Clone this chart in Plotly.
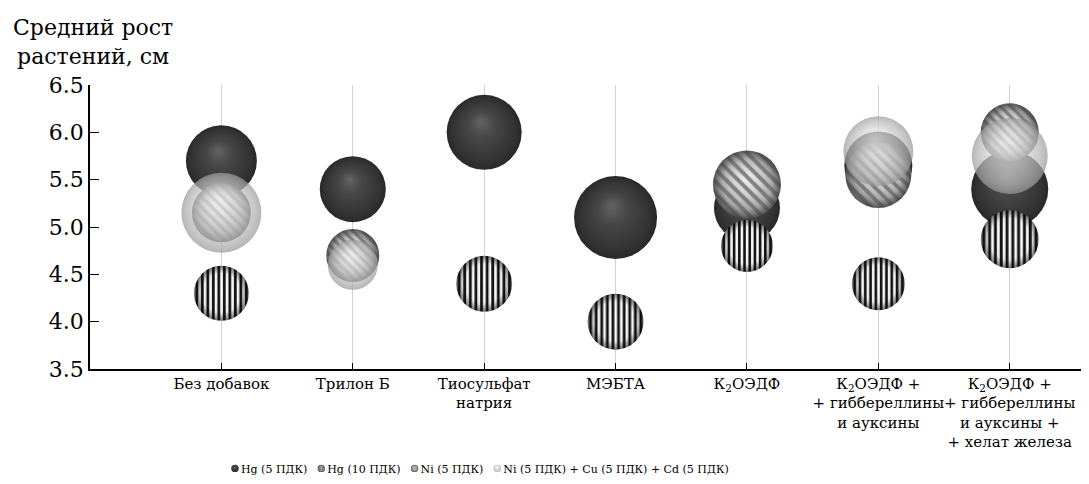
import plotly.graph_objects as go

# ---- data ----
categories = [
    "Без добавок",
    "Трилон Б",
    "Тиосульфат<br>натрия",
    "МЭБТА",
    "К<sub>2</sub>ОЭДФ",
    "К<sub>2</sub>ОЭДФ +<br>+ гиббереллины<br>и ауксины",
    "К<sub>2</sub>ОЭДФ +<br>+ гиббереллины<br>и ауксины +<br>+ хелат железа",
]
series_names = ["Hg (5 ПДК)", "Hg (10 ПДК)", "Ni (5 ПДК)", "Ni (5 ПДК) + Cu (5 ПДК) + Cd (5 ПДК)"]

hg5 = [5.7, 5.4, 6.0, 5.1, 5.2, 5.65, 5.4]
hg10 = [4.3, None, 4.4, 4.0, 4.8, 4.4, 4.87]
ni5 = [5.15, 4.7, None, None, 5.45, 5.55, 6.0]
ni_cu_cd = [5.15, 4.6, None, None, None, 5.8, 5.75]

# bubble sizes (third bubble-chart dimension)
hg5_bubble = [71, 66, 75, 83, 66, 68, 77]
hg10_bubble = [55, 0, 56, 56, 52, 53, 58]
ni5_bubble = [59, 53, 0, 0, 68, 66, 58]
ni_cu_cd_bubble = [80, 50, 0, 0, 0, 70, 76]

FONT = "DejaVu Serif"

fig = go.Figure()
# drawing order: Hg5, Ni5, NiCuCd (translucent), Hg10
fig.add_trace(go.Scatter(
    x=categories, y=hg5, mode="markers", name=series_names[0], legendrank=1,
    marker=dict(size=hg5_bubble, color="#2c2c2c", opacity=1, line=dict(width=0),
                gradient=dict(type="radial", color="#5e5e5e")),
))
fig.add_trace(go.Scatter(
    x=categories, y=ni5, mode="markers", name=series_names[2], legendrank=3,
    marker=dict(size=ni5_bubble, color="#8a8a8a", opacity=1, line=dict(width=0),
                gradient=dict(type="radial", color="#e6e6e6")),
))
fig.add_trace(go.Scatter(
    x=categories, y=ni_cu_cd, mode="markers", name=series_names[3], legendrank=4,
    marker=dict(size=ni_cu_cd_bubble, color="#a0a0a0", opacity=0.72, line=dict(width=0),
                gradient=dict(type="radial", color="#f2f2f2")),
))
fig.add_trace(go.Scatter(
    x=categories, y=hg10, mode="markers", name=series_names[1], legendrank=2,
    marker=dict(size=hg10_bubble, color="#b0b0b0", opacity=1, line=dict(width=0),
                gradient=dict(type="radial", color="#ffffff")),
))

# page body has an 8px margin: figure is 1081x476 so the page shows 1089x484
fig.update_layout(
    width=1081, height=476,
    margin=dict(l=82, r=7, t=77, b=115, autoexpand=False),
    paper_bgcolor="white", plot_bgcolor="white",
    font=dict(family=FONT, color="black"),
    showlegend=True,
    legend=dict(orientation="h", x=0.126, xanchor="left", y=-0.35, yanchor="middle",
                font=dict(family=FONT, size=11, color="black"), itemsizing="constant",
                bgcolor="rgba(0,0,0,0)", traceorder="normal"),
    xaxis=dict(type="category", categoryorder="array", categoryarray=categories,
               range=[-1, 6.55], showgrid=True, gridcolor="#d2d2d2", gridwidth=1,
               ticks="inside", ticklen=6, tickcolor="black", tickwidth=1.3, tickangle=0,
               automargin=False,
               showline=True, linecolor="black", linewidth=1.5, zeroline=False,
               tickfont=dict(family=FONT, size=15, color="black")),
    yaxis=dict(range=[3.5, 6.5], dtick=0.5, tick0=3.5, tickformat=".1f", automargin=False,
               ticks="inside", ticklen=9, tickcolor="black", tickwidth=1.3,
               showline=True, linecolor="black", linewidth=1.5, showgrid=False, zeroline=False,
               tickfont=dict(family=FONT, size=22, color="black")),
    annotations=[dict(text="Средний рост<br>растений, см", xref="paper", yref="paper",
                      x=0.003, y=1.05, xanchor="center", yanchor="bottom", showarrow=False,
                      align="center", font=dict(family=FONT, size=22, color="black"))],
)

post_js = r"""
(function(){
var gd = document.getElementById('{plot_id}');
var NS = 'http://www.w3.org/2000/svg';
var svg = gd.querySelector('svg.main-svg');
var defs = svg.querySelector('defs');
if(!defs){ defs = document.createElementNS(NS,'defs'); svg.insertBefore(defs, svg.firstChild); }
function el(tag, attrs, parent){ var e=document.createElementNS(NS,tag); for(var k in attrs){ e.setAttribute(k, attrs[k]); } if(parent){ parent.appendChild(e);} return e; }
function radial(id, stops, fx, fy){ var g = el('radialGradient', {id:id, cx:'0.5', cy:'0.5', r:'0.5', fx:fx, fy:fy}, defs);
  stops.forEach(function(s){ el('stop', {offset:s[0], 'stop-color':s[1], 'stop-opacity': (s.length>2? s[2]:1)}, g); }); return g; }
radial('rs_dark', [[0,'#646464'],[0.35,'#474747'],[0.85,'#323232'],[1,'#282828']], '0.45', '0.35');
radial('rs_light', [[0,'#f6f6f6'],[0.45,'#d8d8d8'],[0.85,'#b0b0b0'],[1,'#989898']], '0.45', '0.32');
radial('rs_ni', [[0,'#f2f2f2'],[0.45,'#cdcdcd'],[0.85,'#9c9c9c'],[1,'#858585']], '0.5', '0.4');
radial('rs_white', [[0,'#ffffff'],[0.7,'#f2f2f2'],[1,'#b8b8b8']], '0.5', '0.45');
radial('rs_shade', [[0,'#000',0],[0.72,'#000',0],[1,'#000',0.35]], '0.5', '0.5');
var p1 = el('pattern', {id:'rp_hg10', patternUnits:'objectBoundingBox', patternContentUnits:'objectBoundingBox', width:'1', height:'1', x:'0', y:'0'}, defs);
el('rect', {x:0, y:0, width:1, height:1, fill:'url(#rs_white)'}, p1);
for(var i=0;i<10;i++){ el('rect', {x:(0.028+i*0.1).toFixed(3), y:0, width:'0.05', height:1, fill:'#111'}, p1); }
el('rect', {x:0, y:0, width:1, height:1, fill:'url(#rs_shade)'}, p1);
var p2 = el('pattern', {id:'rp_ni', patternUnits:'objectBoundingBox', patternContentUnits:'objectBoundingBox', width:'1', height:'1', x:'0', y:'0'}, defs);
el('rect', {x:0, y:0, width:1, height:1, fill:'url(#rs_ni)'}, p2);
var gg = el('g', {transform:'rotate(-45 0.5 0.5)'}, p2);
for(var j=0;j<16;j++){ el('rect', {x:(-0.45+j*0.125).toFixed(3), y:'-0.5', width:'0.058', height:'2', fill:'#6a6a6a', 'fill-opacity':'0.8'}, gg); }
el('rect', {x:0, y:0, width:1, height:1, fill:'url(#rs_shade)'}, p2);
var fills = ['url(#rs_dark)', 'url(#rp_ni)', 'url(#rs_light)', 'url(#rp_hg10)'];
function idxOf(node){ var d = node.__data__; if(d && d[0] && d[0].trace){ return d[0].trace.index; } return null; }
gd.querySelectorAll('.scatterlayer .trace').forEach(function(t, k){ var i = idxOf(t); if(i===null){ i = k; }
  t.querySelectorAll('path.point').forEach(function(p){ p.style.fill = fills[i]; }); });
// compact legend: small symbol right before the text, small gaps between items
var items = Array.prototype.slice.call(gd.querySelectorAll('.legend .traces'));
var xcur = null;
items.forEach(function(t){
  var i = idxOf(t);
  var tr = t.getAttribute('transform') || '';
  var m = /translate\(\s*([-\d.]+)[ ,]*([-\d.]*)\s*\)/.exec(tr);
  var x0 = m ? parseFloat(m[1]) : 0; var y0 = (m && m[2] !== '') ? parseFloat(m[2]) : 0;
  if(xcur === null){ xcur = x0; }
  t.querySelectorAll('path.scatterpts').forEach(function(p){
    if(i !== null){ p.style.fill = fills[i]; }
    p.setAttribute('transform', 'translate(20,0) scale(0.62)');
  });
  var txt = t.querySelector('text.legendtext');
  var w = 60;
  if(txt){ txt.setAttribute('x', '26'); w = txt.getComputedTextLength ? txt.getComputedTextLength() : txt.getBBox().width; }
  t.setAttribute('transform', 'translate(' + xcur + ',' + y0 + ')');
  xcur = xcur + 26 + w + 4 - 10;
});
})();
"""

fig.write_html("out.html", post_script=post_js)
